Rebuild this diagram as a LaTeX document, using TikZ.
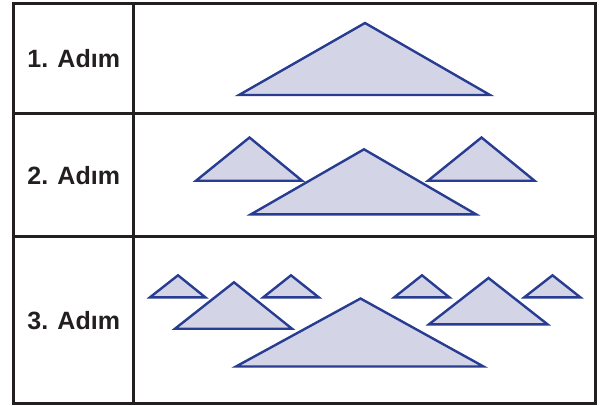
\documentclass[tikz,border=0pt]{standalone}
\usepackage{fontspec}
\setmainfont{Liberation Sans}
\definecolor{gridline}{RGB}{35,31,32}
\definecolor{triedge}{RGB}{40,60,145}
\definecolor{trifill}{RGB}{211,213,230}
\tikzset{
  frame/.style={draw=gridline, line width=2.5pt},
  tri/.style={draw=triedge, fill=trifill, line width=2.4pt, line join=miter},
  steplabel/.style={font=\fontsize{25}{30}\selectfont\bfseries, text=gridline, inner sep=0pt}
}
\begin{document}
\begin{tikzpicture}[x=1pt,y=-1pt]
  \useasboundingbox (0,0) rectangle (605,405);
  % table frame
  \draw[frame] (13.7,3.5) rectangle (595.5,403.7);
  \draw[frame] (133.7,3.5) -- (133.7,403.7);
  \draw[frame] (13.7,113.7) -- (595.5,113.7);
  \draw[frame] (13.7,236.7) -- (595.5,236.7);
  % row labels
  \node[steplabel] (s1) at (73.7,58.6) {1. Adım};
  \node[steplabel] (s2) at (73.7,175.2) {2. Adım};
  \node[steplabel] (s3) at (73.7,320.2) {3. Adım};
  % step 1
  \draw[tri] (239,95) -- (365,23) -- (490,95) -- cycle;
  % step 2
  \draw[tri] (196,180.7) -- (249.5,137.5) -- (302,180.7) -- cycle;
  \draw[tri] (428,180.7) -- (481.5,137.5) -- (534.5,180.7) -- cycle;
  \draw[tri] (251,214.3) -- (364,149.3) -- (476,214.3) -- cycle;
  % step 3
  \draw[tri] (150,297.3) -- (178,275.3) -- (205.3,297.3) -- cycle;
  \draw[tri] (263.3,297.3) -- (291,275.3) -- (318.7,297.3) -- cycle;
  \draw[tri] (394.3,297.3) -- (422,275.3) -- (449.3,297.3) -- cycle;
  \draw[tri] (524.3,297.3) -- (552.5,275.3) -- (580.3,297.3) -- cycle;
  \draw[tri] (175,328.7) -- (234,282.3) -- (292,328.7) -- cycle;
  \draw[tri] (429,324.3) -- (488.5,278) -- (547.5,324.3) -- cycle;
  \draw[tri] (236,366.5) -- (360.5,298.5) -- (483.5,366.5) -- cycle;
\end{tikzpicture}
\end{document}
